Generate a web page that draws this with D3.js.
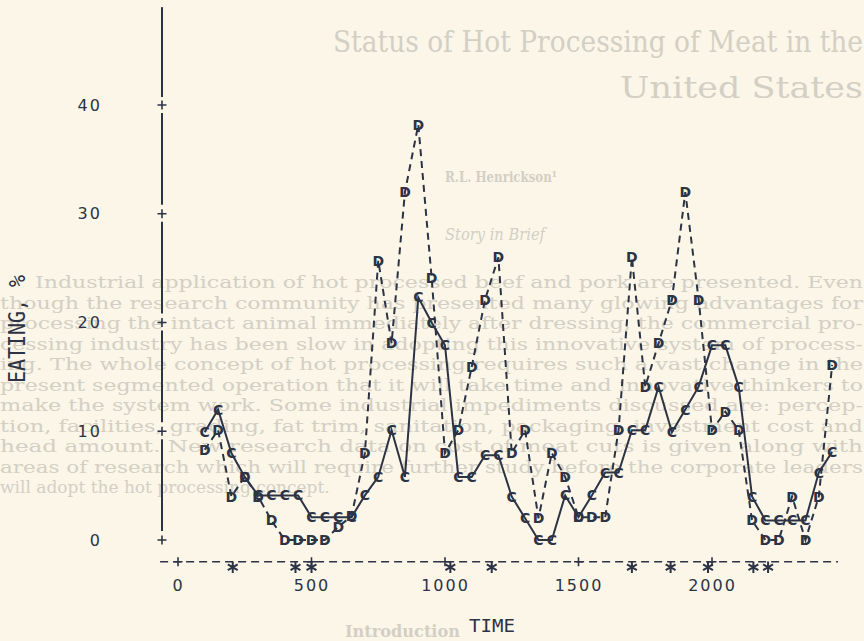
<!DOCTYPE html>
<meta charset="utf-8">
<head>
    <script src="https://cdn.jsdelivr.net/npm/d3@7"></script>
    <style>
        body { margin: 0; background: #fbf6e8; }
        svg { display: block; }
        .page { fill: #d3cfc4; font-family: "DejaVu Serif", serif; }
        .tick text { fill: #2c3344; font: 16px "DejaVu Sans"; letter-spacing: 2px; }
    </style>
</head>
<body>
<div id="graph"></div>
<script>
    // sample times, shared by both series
    var times = [100, 150, 200, 250, 300, 350, 400, 450, 500, 550, 600, 650,
                 700, 750, 800, 850, 900, 950, 1000, 1050, 1100, 1150, 1200, 1250,
                 1300, 1350, 1400, 1450, 1500, 1550, 1600, 1650, 1700, 1750, 1800, 1850,
                 1900, 1950, 2000, 2050, 2100, 2150, 2200, 2250, 2300, 2350, 2400, 2450];
    // series C (solid)
    var seriesC = [9.9, 12.0, 8.0, 5.8, 4.1, 4.1, 4.1, 4.1, 2.1, 2.1, 2.1, 2.1,
                   4.1, 5.8, 10.1, 5.8, 22.3, 20.0, 17.9, 5.8, 5.8, 7.8, 7.8, 4.0,
                   2.0, 0, 0, 4.1, 2.1, 4.1, 6.2, 6.2, 10.1, 10.1, 14.1, 9.9,
                   12.0, 14.1, 17.9, 17.9, 14.1, 4.0, 1.8, 1.8, 1.8, 1.8, 6.2, 8.1];
    // series D (dashed)
    var seriesD = [8.3, 10.1, 4.0, 5.8, 4.0, 1.8, 0, 0, 0, 0, 1.2, 2.2,
                   8.0, 25.7, 18.1, 32.0, 38.2, 24.1, 8.0, 10.1, 15.9, 22.1, 26.0, 8.0,
                   10.1, 2.0, 8.0, 5.8, 2.1, 2.1, 2.1, 10.1, 26.0, 14.1, 18.1, 22.1,
                   32.0, 22.1, 10.1, 11.8, 10.1, 1.8, 0, 0, 4.0, 0, 4.0, 16.1];
    // starred times under the axis
    var starTimes = [205, 440, 500, 1020, 1175, 1700, 1845, 1985, 2155, 2210];
    var xTicks = [0, 500, 1000, 1500, 2000];
    var yTicks = [0, 10, 20, 30, 40];

    // faded page text behind the plot
    var titleLines = ["Status of Hot Processing of Meat in the", "United States"];
    var bodyLines = [
        "Industrial application of hot processed beef and pork are presented. Even",
        "though the research community has presented many glowing advantages for",
        "processing the intact animal immediately after dressing, the commercial pro-",
        "cessing industry has been slow in adopting this innovative system of process-",
        "ing. The whole concept of hot processing requires such a vast change in the",
        "present segmented operation that it will take time and innovative thinkers to",
        "make the system work. Some industrial impediments discussed are: percep-",
        "tion, facilities, grading, fat trim, sanitation, packaging, investment cost and",
        "head amount. New research data on cost of meat cuts is given along with",
        "areas of research which will require further study before the corporate leaders",
        "will adopt the hot processing concept."
    ];

    var ink = "#2c3344";
    var W = 864, H = 641;

    var svg = d3.select("#graph").append("svg")
        .attr("width", W)
        .attr("height", H);

    // page text
    var page = svg.append("g").attr("class", "page");
    page.append("text").attr("x", 333).attr("y", 52).attr("font-size", 29)
        .attr("textLength", 530).attr("lengthAdjust", "spacingAndGlyphs").text(titleLines[0]);
    page.append("text").attr("x", 620).attr("y", 98).attr("font-size", 29)
        .attr("textLength", 243).attr("lengthAdjust", "spacingAndGlyphs").text(titleLines[1]);
    page.append("text").attr("x", 445).attr("y", 182).attr("font-size", 14).attr("font-weight", "bold")
        .attr("textLength", 112).attr("lengthAdjust", "spacingAndGlyphs").text("R.L. Henrickson\u00b9");
    page.append("text").attr("x", 445).attr("y", 240).attr("font-size", 17).attr("font-style", "italic")
        .attr("textLength", 100).attr("lengthAdjust", "spacingAndGlyphs").text("Story in Brief");
    bodyLines.forEach(function(s, i) {
        var t = page.append("text")
            .attr("x", i == 0 ? 35 : 0)
            .attr("y", 288 + i * 20.5)
            .attr("font-size", 17)
            .text(s);
        if (i < bodyLines.length - 1) {
            t.attr("textLength", i == 0 ? 828 : 863).attr("lengthAdjust", "spacingAndGlyphs");
        }
    });
    page.append("text").attr("x", 345).attr("y", 637).attr("font-size", 17).attr("font-weight", "bold")
        .attr("textLength", 115).attr("lengthAdjust", "spacingAndGlyphs")
        .text("Introduction");

    var x = d3.scaleLinear().domain([0, 2000]).range([178, 712]);
    var y = d3.scaleLinear().domain([0, 40]).range([540, 105]);

    var axisX = x(-60);   // vertical axis position
    var axisY = y(-2);    // horizontal axis position

    // little plus / asterisk marks
    function cross(r) {
        return "M" + (-r) + ",0H" + r + "M0," + (-r) + "V" + r;
    }
    var star = {
        draw: function(ctx, size) {
            var r = Math.sqrt(size) / 2;
            for (var k = 0; k < 3; k++) {
                var a = Math.PI / 2 + k * Math.PI / 3;
                ctx.moveTo(r * Math.cos(a), r * Math.sin(a));
                ctx.lineTo(-r * Math.cos(a), -r * Math.sin(a));
            }
        }
    };

    // Y axis labels
    svg.append("g")
        .attr("transform", "translate(" + axisX + ",0)")
        .call(d3.axisLeft(y).tickValues(yTicks).tickSize(0).tickPadding(60))
        .call(function(g) { g.select(".domain").remove(); });

    // Y axis line, broken round each tick
    var segs = [[y(49), y(40) - 8]];
    for (var i = yTicks.length - 1; i > 0; i--) {
        segs.push([y(yTicks[i]) + 8, y(yTicks[i - 1]) - 9]);
    }
    svg.selectAll("line.yseg")
        .data(segs)
        .enter().append("line")
        .attr("x1", axisX).attr("x2", axisX)
        .attr("y1", function(d) { return d[0]; })
        .attr("y2", function(d) { return d[1]; })
        .attr("stroke", ink).attr("stroke-width", 2);
    svg.selectAll("path.yplus")
        .data(yTicks)
        .enter().append("path")
        .attr("d", cross(4.5))
        .attr("transform", function(d) { return "translate(" + axisX + "," + y(d) + ")"; })
        .attr("stroke", ink).attr("stroke-width", 1.6);

    // X axis: dashed rule with plus ticks
    svg.append("line")
        .attr("x1", x(-67)).attr("x2", x(2472))
        .attr("y1", axisY).attr("y2", axisY)
        .attr("stroke", ink).attr("stroke-width", 1.6)
        .attr("stroke-dasharray", "8,5");
    svg.append("g")
        .attr("transform", "translate(0," + axisY + ")")
        .call(d3.axisBottom(x).tickValues(xTicks).tickFormat(d3.format("d")).tickSize(0).tickPadding(18))
        .call(function(g) { g.select(".domain").remove(); });
    svg.selectAll("path.xplus")
        .data(xTicks)
        .enter().append("path")
        .attr("d", cross(4.5))
        .attr("transform", function(d) { return "translate(" + x(d) + "," + axisY + ")"; })
        .attr("stroke", ink).attr("stroke-width", 1.6);

    // stars under the axis
    svg.selectAll("path.star")
        .data(starTimes)
        .enter().append("path")
        .attr("d", d3.symbol(star, 130))
        .attr("transform", function(d) { return "translate(" + x(d) + "," + y(-2.5) + ")"; })
        .attr("stroke", ink).attr("stroke-width", 2);

    // axis titles
    svg.append("text")
        .attr("transform", "translate(17," + 329 + ") rotate(-90)")
        .attr("text-anchor", "middle")
        .attr("dominant-baseline", "central")
        .attr("font-family", "DejaVu Sans Mono")
        .attr("font-size", 23)
        .attr("textLength", 108).attr("lengthAdjust", "spacingAndGlyphs")
        .attr("fill", ink)
        .text("EATING, %");
    svg.append("text")
        .attr("x", 492).attr("y", 632)
        .attr("text-anchor", "middle")
        .attr("font-family", "DejaVu Sans Mono")
        .attr("font-size", 18)
        .attr("textLength", 46).attr("lengthAdjust", "spacingAndGlyphs")
        .attr("fill", ink)
        .text("TIME");

    // data
    var dataC = times.map(function(t, i) { return {t: t, v: seriesC[i]}; });
    var dataD = times.map(function(t, i) { return {t: t, v: seriesD[i]}; });
    var line = d3.line()
        .x(function(d) { return x(d.t); })
        .y(function(d) { return y(d.v); });

    svg.append("path")
        .datum(dataD)
        .attr("d", line)
        .attr("fill", "none")
        .attr("stroke", ink).attr("stroke-width", 2)
        .attr("stroke-dasharray", "7,5");
    svg.append("path")
        .datum(dataC)
        .attr("d", line)
        .attr("fill", "none")
        .attr("stroke", ink).attr("stroke-width", 2);

    function markers(data, ch) {
        svg.append("g").selectAll("text")
            .data(data)
            .enter().append("text")
            .attr("x", function(d) { return x(d.t); })
            .attr("y", function(d) { return y(d.v); })
            .attr("text-anchor", "middle")
            .attr("dominant-baseline", "central")
            .attr("font-family", "DejaVu Sans")
            .attr("font-weight", "bold")
            .attr("font-size", 14)
            .attr("fill", ink)
            .text(ch);
    }
    markers(dataD, "D");
    markers(dataC, "C");
</script>
</body>
